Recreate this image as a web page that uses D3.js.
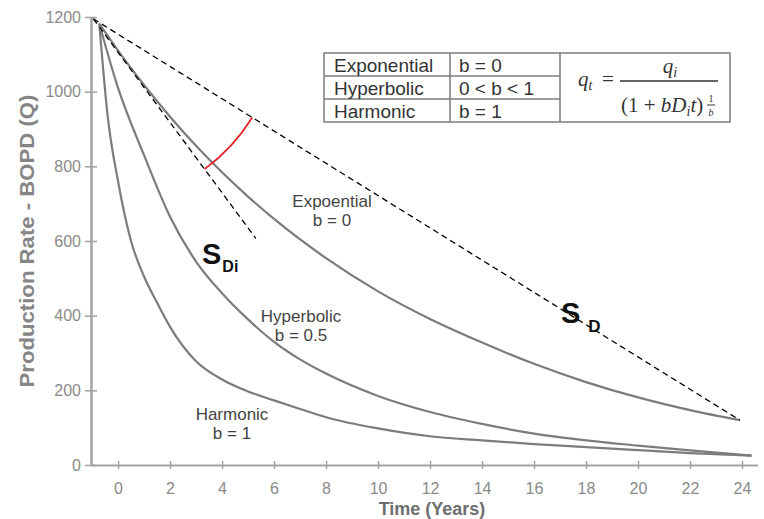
<!DOCTYPE html>
<html>
<head>
<meta charset="utf-8">
<script src="https://cdn.jsdelivr.net/npm/d3@7"></script>
<style>
  body { margin: 0; background: #fff; }
  svg { display: block; }
</style>
</head>
<body>
<svg id="chart" width="764" height="519"></svg>
<script>
// ---- data ----
const xTicks = [0, 2, 4, 6, 8, 10, 12, 14, 16, 18, 20, 22, 24];
const yTicks = [0, 200, 400, 600, 800, 1000, 1200];

// Exponential decline (b = 0)
const expYears = [-0.72, 0, 1, 2, 3, 4, 5, 6, 8, 10, 12, 14, 16, 18, 20, 22, 23.92];
const expRate  = [1182, 1110, 1018, 933, 855, 784, 719, 659, 554, 465, 391, 328, 271, 222, 181, 147, 120];

// Hyperbolic decline (b = 0.5)
const hypYears = [-0.72, 0, 1, 2, 3, 4, 5, 6, 7, 8, 10, 12, 14, 16, 18, 20, 22, 24.37];
const hypRate  = [1182, 1010, 830, 665, 545, 460, 390, 330, 283, 245, 185, 142, 110, 84, 66, 52, 39, 25];

// Harmonic decline (b = 1)
const harYears = [-0.72, -0.4, 0, 0.5, 1, 1.5, 2, 3, 4, 5, 6, 7, 8, 10, 12, 14, 16, 18, 20, 22, 24.37];
const harRate  = [1182, 935, 760, 600, 505, 435, 370, 278, 229, 197, 173, 150, 128, 98, 77, 66, 56, 48, 40, 32, 25];

// Secant (average decline) and initial tangent lines
const secantYears  = [-0.95, 23.92];
const secantRate   = [1195, 120];
const tangentYears = [-0.95, 5.3];
const tangentRate  = [1195, 607];

// Legend table
const tableNames = ["Exponential", "Hyperbolic", "Harmonic"];
const tableB     = ["b = 0", "0 < b < 1", "b = 1"];

// Curve labels
const curveNames = ["Expoential", "Hyperbolic", "Harmonic"];
const curveB     = ["b = 0", "b = 0.5", "b = 1"];

// ---- scales ----
const svg = d3.select("#chart");
const x = d3.scaleLinear().domain([-1.04, 24.6]).range([91, 757.6]);
const y = d3.scaleLinear().domain([0, 1200]).range([465, 17]);

const FONT = "'Liberation Sans', Arial, sans-serif";
const SERIF = "'Liberation Serif', 'Times New Roman', serif";

// ---- axes ----
const gx = svg.append("g")
  .attr("transform", `translate(0,${y(0)})`)
  .call(d3.axisBottom(x).tickValues(xTicks).tickFormat(d3.format("d")).tickSizeOuter(0));
gx.select(".domain").attr("stroke", "#a3a3a3").attr("stroke-width", 2);
gx.selectAll(".tick line").attr("y1", -4).attr("y2", 4)
  .attr("stroke", "#a0a0a0").attr("stroke-width", 1.5);
gx.selectAll(".tick text").attr("y", 29).attr("dy", 0)
  .attr("font-family", FONT).attr("font-size", 16).attr("fill", "#8a8a8a");

const gy = svg.append("g")
  .attr("transform", `translate(${x(-1.04)},0)`)
  .call(d3.axisLeft(y).tickValues(yTicks).tickFormat(d3.format("d")).tickSizeOuter(0));
gy.select(".domain").attr("stroke", "#a3a3a3").attr("stroke-width", 2.5);
gy.selectAll(".tick line").attr("x1", -6).attr("x2", 6)
  .attr("stroke", "#a0a0a0").attr("stroke-width", 1.5);
gy.selectAll(".tick text").attr("x", -10).attr("dy", "0.33em")
  .attr("font-family", FONT).attr("font-size", 16).attr("fill", "#8a8a8a");

// axis titles
svg.append("text")
  .attr("transform", "translate(34,241) rotate(-90)")
  .attr("text-anchor", "middle")
  .attr("font-family", FONT).attr("font-weight", "bold").attr("font-size", 20)
  .attr("textLength", 293).attr("lengthAdjust", "spacingAndGlyphs")
  .attr("fill", "#858585")
  .text("Production Rate - BOPD (Q)");

svg.append("text")
  .attr("x", 432).attr("y", 515)
  .attr("text-anchor", "middle")
  .attr("font-family", FONT).attr("font-weight", "bold").attr("font-size", 18)
  .attr("fill", "#6e6e6e")
  .text("Time (Years)");

// ---- decline curves ----
const line = d3.line().x(d => x(d[0])).y(d => y(d[1])).curve(d3.curveMonotoneX);
const series = [
  d3.zip(expYears, expRate),
  d3.zip(hypYears, hypRate),
  d3.zip(harYears, harRate)
];
svg.append("g").selectAll("path").data(series).join("path")
  .attr("d", line)
  .attr("fill", "none")
  .attr("stroke", "#7c7c7c")
  .attr("stroke-width", 2.2);

// ---- dashed secant / tangent ----
const straight = d3.line().x(d => x(d[0])).y(d => y(d[1]));
svg.append("g").selectAll("path")
  .data([d3.zip(secantYears, secantRate), d3.zip(tangentYears, tangentRate)])
  .join("path")
  .attr("d", straight)
  .attr("fill", "none")
  .attr("stroke", "#000")
  .attr("stroke-width", 1.3)
  .attr("stroke-dasharray", "6,4");

// ---- red angle arc between the two lines ----
{
  const cx = x(secantYears[0]), cy = y(secantRate[0]);
  const a1 = Math.atan2(y(secantRate[1]) - cy, x(secantYears[1]) - cx);
  const a2 = Math.atan2(y(tangentRate[1]) - cy, x(tangentYears[1]) - cx);
  const r = 187;
  const p = d3.path();
  p.moveTo(cx + r * Math.cos(a1), cy + r * Math.sin(a1));
  p.arc(cx, cy, r, a1, a2, false);
  svg.append("path").attr("d", p.toString())
    .attr("fill", "none").attr("stroke", "#e8161b").attr("stroke-width", 1.6);
}

// ---- S labels ----
function sLabel(xp, yp, sub, subDx, subDy, subSize) {
  const t = svg.append("text").attr("x", xp).attr("y", yp)
    .attr("font-family", FONT).attr("font-weight", "bold").attr("fill", "#111");
  t.append("tspan").attr("font-size", 29).text("S");
  t.append("tspan").attr("font-size", subSize).attr("dx", subDx).attr("dy", subDy).text(sub);
}
sLabel(202, 264, "Di", 1, 7.5, 16);
sLabel(561, 323, "D", 8, 8.5, 17);

// ---- curve labels ----
const labelPos = [[332, 207], [301, 322], [232, 420]];
const gl = svg.append("g")
  .attr("font-family", FONT).attr("font-size", 17).attr("fill", "#444")
  .attr("text-anchor", "middle");
curveNames.forEach((n, i) => {
  gl.append("text").attr("x", labelPos[i][0]).attr("y", labelPos[i][1]).text(n);
  gl.append("text").attr("x", labelPos[i][0]).attr("y", labelPos[i][1] + 19).text(curveB[i]);
});

// ---- legend table with formula ----
const tb = svg.append("g");
const tX0 = 324, tX1 = 450, tX2 = 560, tX3 = 730;
const tY0 = 53, tY1 = 76, tY2 = 99, tY3 = 122;
tb.append("rect").attr("x", tX0).attr("y", tY0)
  .attr("width", tX3 - tX0).attr("height", tY3 - tY0)
  .attr("fill", "#fff").attr("stroke", "#7d7d7d").attr("stroke-width", 1.5);
[[tX1, tY0, tX1, tY3], [tX2, tY0, tX2, tY3], [tX0, tY1, tX2, tY1], [tX0, tY2, tX2, tY2]]
  .forEach(s => tb.append("line")
    .attr("x1", s[0]).attr("y1", s[1]).attr("x2", s[2]).attr("y2", s[3])
    .attr("stroke", "#7d7d7d").attr("stroke-width", 1.5));
const rowBase = [72, 95, 117.5];
tableNames.forEach((n, i) => {
  tb.append("text").attr("x", 334).attr("y", rowBase[i])
    .attr("font-family", FONT).attr("font-size", 19).attr("fill", "#333").text(n);
  tb.append("text").attr("x", 459).attr("y", rowBase[i])
    .attr("font-family", FONT).attr("font-size", 19).attr("fill", "#333").text(tableB[i]);
});

// q_t = q_i / (1 + b D_i t)^(1/b)
const fm = tb.append("g").attr("font-family", SERIF).attr("fill", "#333");
{
  const lhs = fm.append("text").attr("x", 578).attr("y", 86).attr("font-size", 21);
  lhs.append("tspan").attr("font-style", "italic").text("q");
  lhs.append("tspan").attr("font-style", "italic").attr("font-size", 14).attr("dy", 4).text("t");
  fm.append("text").attr("x", 602).attr("y", 86).attr("font-size", 21).text("=");
  fm.append("line").attr("x1", 620).attr("x2", 718).attr("y1", 81).attr("y2", 81)
    .attr("stroke", "#333").attr("stroke-width", 1.3);
  const num = fm.append("text").attr("x", 670).attr("y", 73).attr("font-size", 21)
    .attr("text-anchor", "middle");
  num.append("tspan").attr("font-style", "italic").text("q");
  num.append("tspan").attr("font-style", "italic").attr("font-size", 14).attr("dy", 4).text("i");
  const den = fm.append("text").attr("x", 621).attr("y", 112).attr("font-size", 21);
  den.append("tspan").text("(1 + ");
  den.append("tspan").attr("font-style", "italic").text("bD");
  den.append("tspan").attr("font-style", "italic").attr("font-size", 14).attr("dy", 4).text("i");
  den.append("tspan").attr("font-style", "italic").attr("dy", -4).text("t");
  den.append("tspan").text(")");
  fm.append("text").attr("x", 711).attr("y", 102).attr("font-size", 10)
    .attr("text-anchor", "middle").text("1");
  fm.append("line").attr("x1", 707).attr("x2", 715).attr("y1", 105).attr("y2", 105)
    .attr("stroke", "#333").attr("stroke-width", 1);
  fm.append("text").attr("x", 711).attr("y", 116).attr("font-size", 10)
    .attr("font-style", "italic").attr("text-anchor", "middle").text("b");
}
</script>
</body>
</html>
